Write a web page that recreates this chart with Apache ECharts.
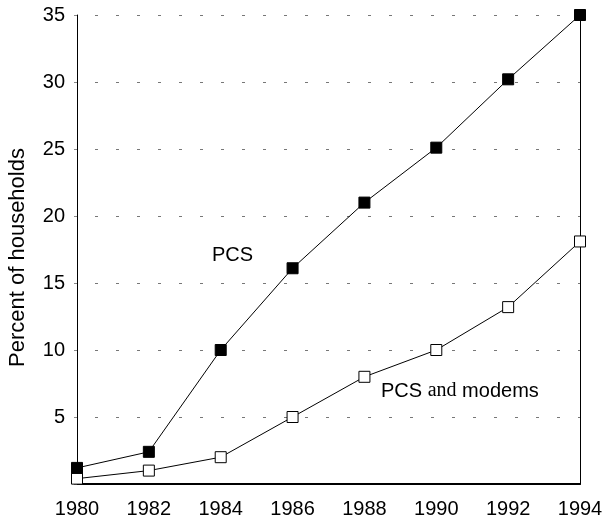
<!DOCTYPE html>
<html>
<head>
<meta charset="utf-8">
<script src="https://cdn.jsdelivr.net/npm/echarts@6/dist/echarts.min.js"></script>
<style>
  html, body { margin: 0; padding: 0; background: #fff; }
  #main { width: 604px; height: 525px; }
</style>
</head>
<body>
<div id="main"></div>
<script>
// data
var years = [1980, 1982, 1984, 1986, 1988, 1990, 1992, 1994];
var pcs = [1.2, 2.4, 10, 16.1, 21, 25.1, 30.2, 35];
var pcsModems = [0.4, 1.0, 2.0, 5.0, 8.0, 10.0, 13.2, 18.1];
var yTicks = [5, 10, 15, 20, 25, 30, 35];

function pairs(xs, ys) {
  var out = [];
  for (var i = 0; i < xs.length; i++) out.push([xs[i], ys[i]]);
  return out;
}

var font = '"Liberation Sans", Arial, sans-serif';

var myChart = echarts.init(document.getElementById('main'));
myChart.setOption({
  animation: false,
  backgroundColor: '#fff',
  grid: { left: 77, right: 24, top: 15, bottom: 41, containLabel: false, outerBoundsMode: 'none' },
  xAxis: [
    {
      type: 'value',
      min: 1980,
      max: 1994,
      interval: 2,
      position: 'bottom',
      axisLine: { show: true, lineStyle: { color: '#000', width: 2 } },
      axisTick: { show: false },
      splitLine: { show: false },
      axisLabel: {
        color: '#000', fontSize: 20, fontFamily: font, margin: 15,
        formatter: function (v) { return String(v); }
      }
    },
    {
      type: 'value',
      min: 1980,
      max: 1994,
      position: 'top',
      axisLine: { show: true, lineStyle: { color: '#000', width: 1 } },
      axisTick: { show: false },
      axisLabel: { show: false },
      splitLine: { show: false }
    }
  ],
  yAxis: [
    {
      type: 'value',
      min: 0,
      max: 35,
      interval: 5,
      name: 'Percent of households',
      nameLocation: 'middle',
      nameRotate: 90,
      nameGap: 48,
      nameTextStyle: { color: '#000', fontSize: 22, fontFamily: font, padding: [0, 16, 0, 0] },
      axisLine: { show: true, lineStyle: { color: '#000', width: 1 } },
      axisTick: { show: true, length: 3, lineStyle: { color: '#888' } },
      axisLabel: {
        color: '#000', fontSize: 20, fontFamily: font, margin: 12,
        formatter: function (v) { return yTicks.indexOf(v) >= 0 ? String(v) : ''; }
      },
      splitLine: {
        show: true,
        lineStyle: { color: '#777', width: 1, type: [3, 18], dashOffset: 3 }
      }
    },
    {
      type: 'value',
      min: 0,
      max: 35,
      position: 'right',
      axisLine: { show: true, lineStyle: { color: '#000', width: 1 } },
      axisTick: { show: false },
      axisLabel: { show: false },
      splitLine: { show: false }
    }
  ],
  series: [
    {
      name: 'PCS and modems',
      type: 'line',
      data: pairs(years, pcsModems),
      symbol: 'rect',
      symbolSize: 11,
      itemStyle: { color: '#fff', borderColor: '#000', borderWidth: 1 },
      lineStyle: { color: '#000', width: 1 },
      z: 3
    },
    {
      name: 'PCS',
      type: 'line',
      data: pairs(years, pcs),
      symbol: 'rect',
      symbolSize: 11,
      itemStyle: { color: '#000', borderColor: '#000', borderWidth: 1 },
      lineStyle: { color: '#000', width: 1 },
      z: 4
    }
  ],
  graphic: [
    {
      type: 'text',
      x: 212,
      y: 255,
      style: {
        text: 'PCS',
        fill: '#000',
        font: '20px ' + font,
        textAlign: 'left',
        textVerticalAlign: 'middle'
      }
    },
    {
      type: 'text',
      x: 381,
      y: 391,
      style: {
        text: '{a|PCS }{b|and}{a| modems}',
        fill: '#000',
        textAlign: 'left',
        textVerticalAlign: 'middle',
        rich: {
          a: { fontSize: 20, fontFamily: font, fill: '#000' },
          b: { fontSize: 20, fontFamily: '"Liberation Serif", "Times New Roman", serif', fill: '#000' }
        }
      }
    }
  ]
});
</script>
</body>
</html>
